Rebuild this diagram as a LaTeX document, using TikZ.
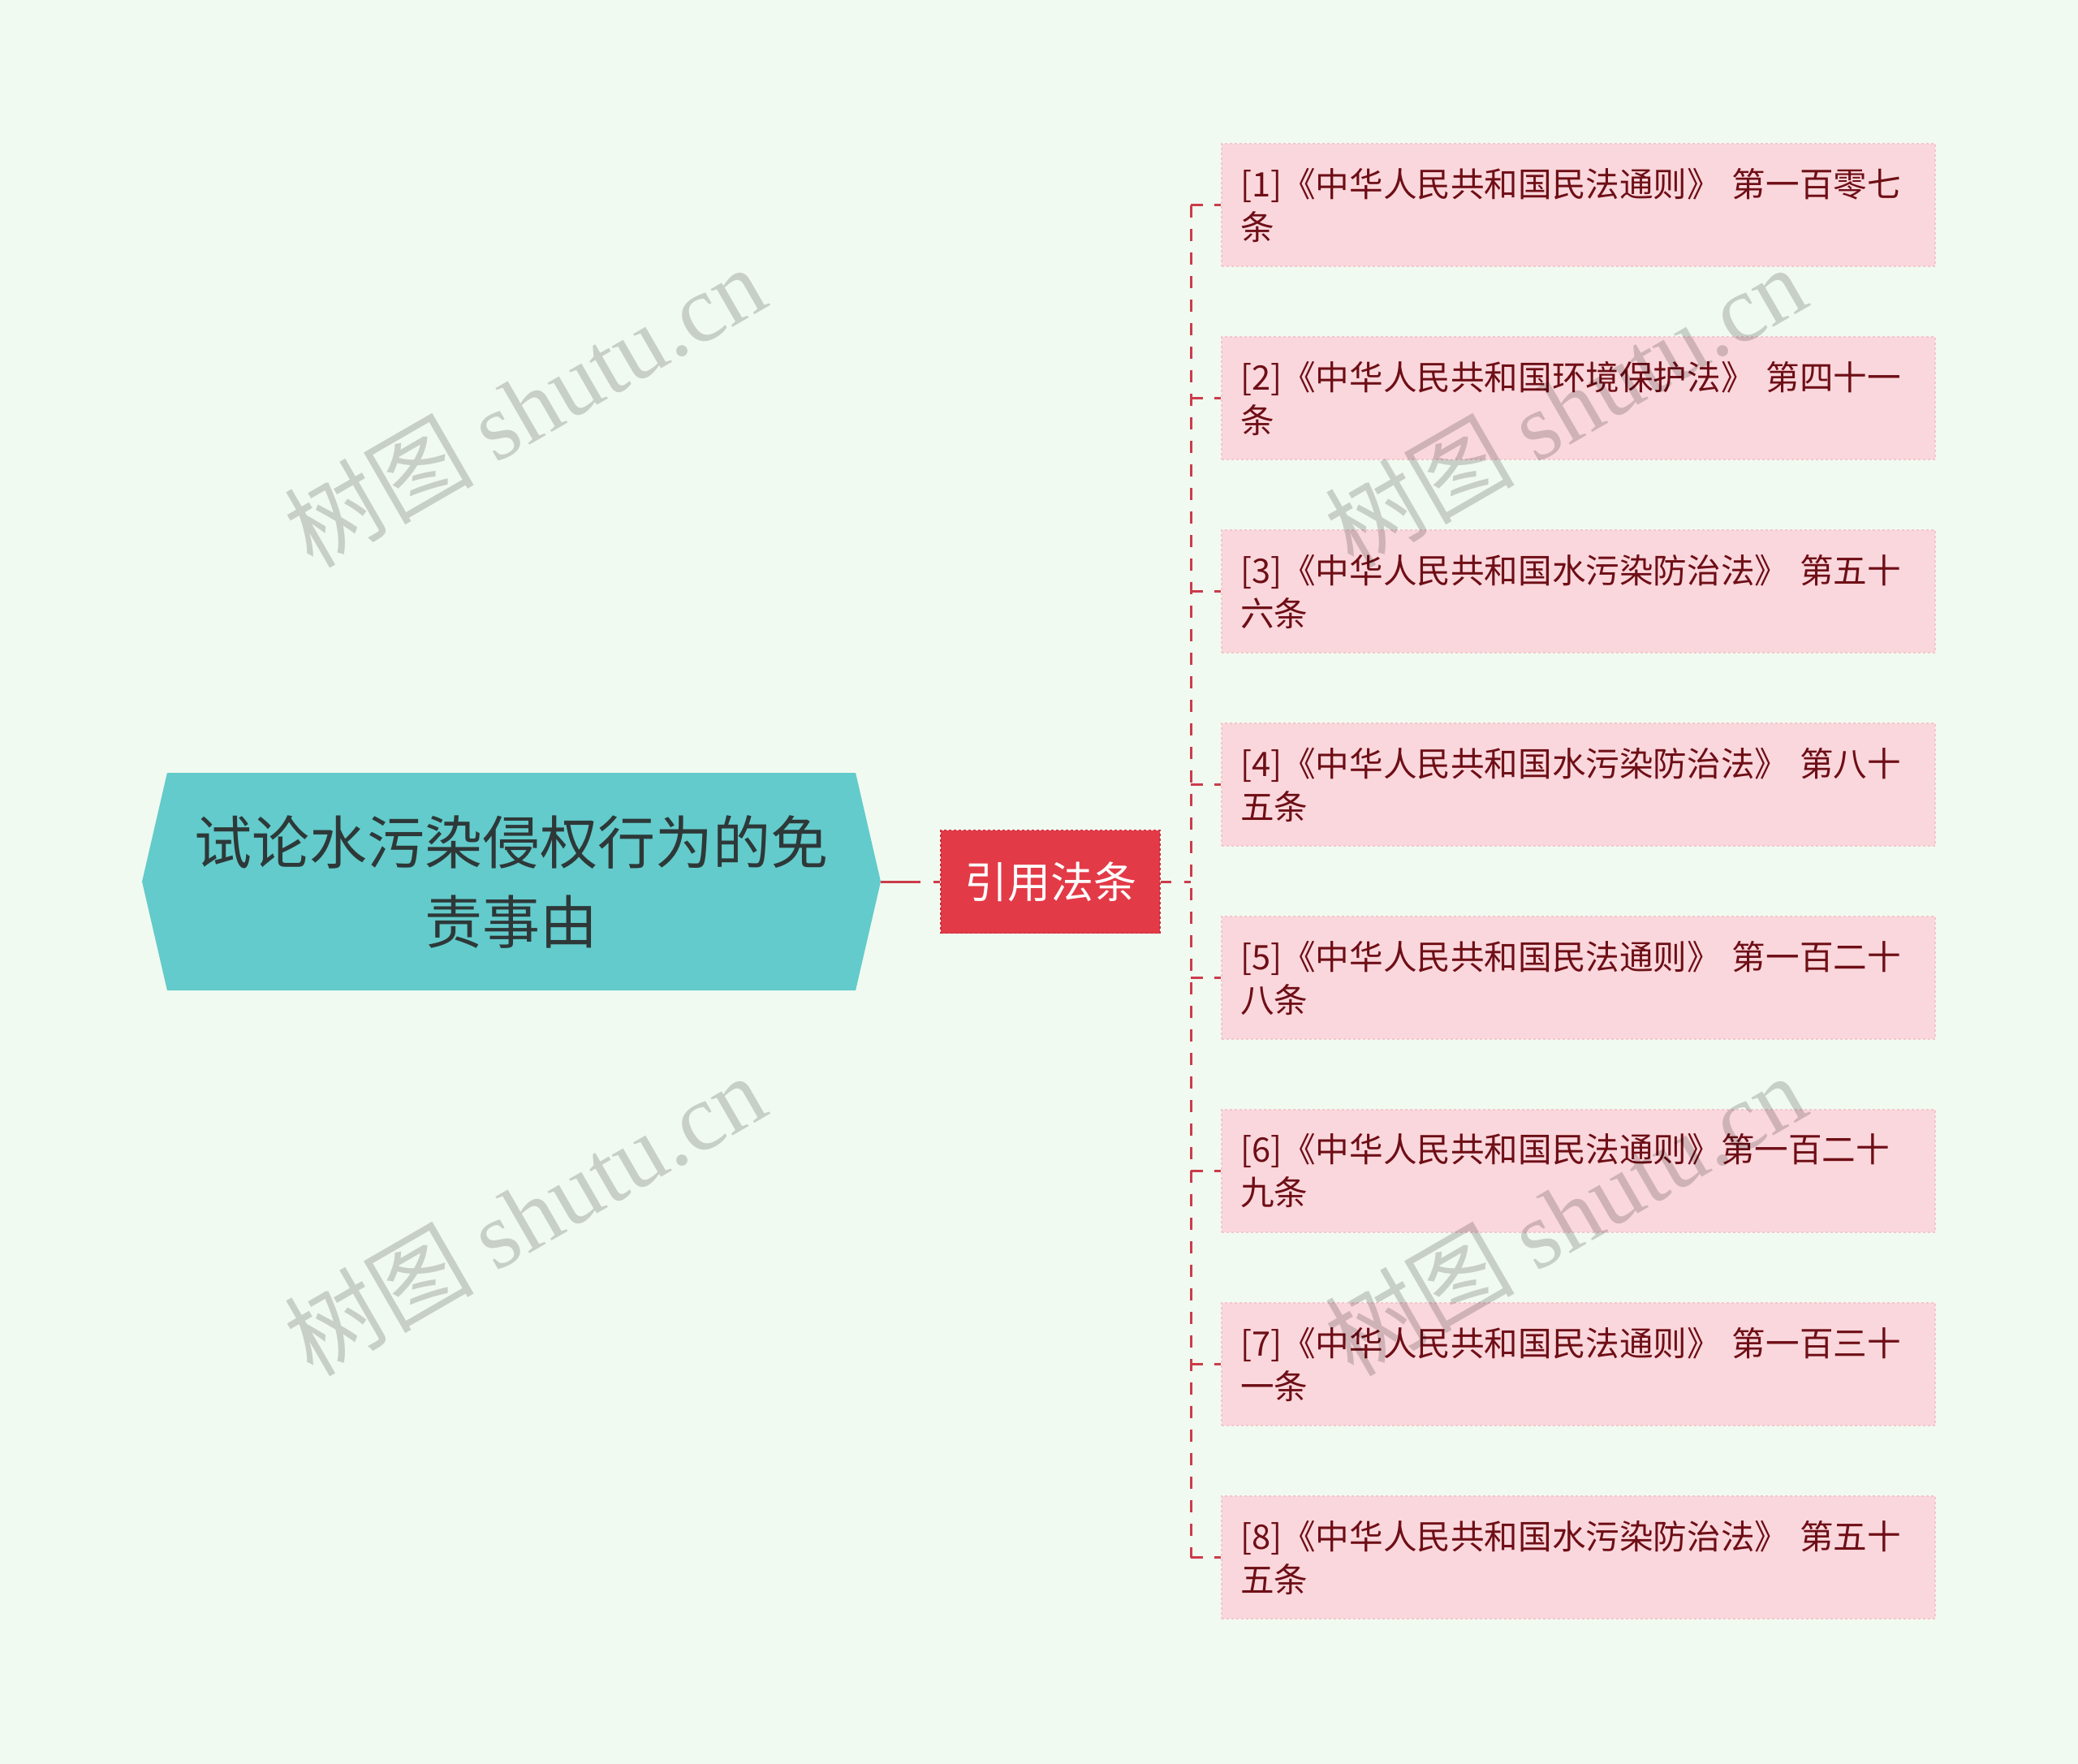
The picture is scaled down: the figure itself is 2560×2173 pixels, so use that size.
\documentclass[tikz,border=0pt]{standalone}
\usepackage{fontspec}
\setmainfont{Noto Sans CJK SC}
\newfontfamily\wmfont{Liberation Serif}
\usepackage{xcolor}
\usepackage{tikz}
\usetikzlibrary{shapes.symbols}

\definecolor{bgcol}{HTML}{F1FAF0}
\definecolor{rootcol}{HTML}{63CBCB}
\definecolor{roottext}{HTML}{2E3838}
\definecolor{refcol}{HTML}{E33A47}
\definecolor{refedge}{HTML}{C92E3A}
\definecolor{leafcol}{HTML}{FAD7DC}
\definecolor{leafedge}{HTML}{F4C6CC}
\definecolor{leaftext}{HTML}{6E0E16}
\definecolor{linkcol}{HTML}{CB3C4A}

\begin{document}
\begin{tikzpicture}[x=1pt,y=-1pt,
    rootbox/.style={shape=signal,signal to=east and west,signal pointer angle=154,
        fill=rootcol,text=roottext,minimum width=910,minimum height=268,inner sep=0pt,
        align=center,font=\fontsize{71}{98}\selectfont},
    refbox/.style={shape=rectangle,fill=refcol,draw=refedge,dashed,line width=1.5pt,
        text=white,minimum width=270,minimum height=127,inner sep=0pt,
        font=\fontsize{53}{60}\selectfont},
    citebox/.style={shape=rectangle,fill=leafcol,draw=leafedge,dashed,line width=1.5pt,
        text=leaftext,minimum width=879,minimum height=151,text width=833,inner xsep=23pt,
        align=left,font=\fontsize{41.6}{53}\selectfont},
    link/.style={draw=linkcol,line width=3pt,dash pattern=on 15pt off 14pt},
    wmark/.style={rotate=30,text=black,text opacity=0.17,font=\fontsize{117}{117}\selectfont}]

\fill[bgcol] (0,0) rectangle (2560,2173);
\useasboundingbox (0,0) rectangle (2560,2173);

    \node[rootbox] (root) at (630,1086) {试论水污染侵权行为的免\\责事由};

    \node[refbox] (ref) at (1294,1086) {引用法条};

    \node[citebox] (c1) at (1944.5,252.5)  {[1]《中华人民共和国民法通则》 第一百零七\\条};
    \node[citebox] (c2) at (1944.5,490.5)  {[2]《中华人民共和国环境保护法》 第四十一\\条};
    \node[citebox] (c3) at (1944.5,728.5)  {[3]《中华人民共和国水污染防治法》 第五十\\六条};
    \node[citebox] (c4) at (1944.5,966.5)  {[4]《中华人民共和国水污染防治法》 第八十\\五条};
    \node[citebox] (c5) at (1944.5,1204.5) {[5]《中华人民共和国民法通则》 第一百二十\\八条};
    \node[citebox] (c6) at (1944.5,1442.5) {[6]《中华人民共和国民法通则》第一百二十\\九条};
    \node[citebox] (c7) at (1944.5,1680.5) {[7]《中华人民共和国民法通则》 第一百三十\\一条};
    \node[citebox] (c8) at (1944.5,1918.5) {[8]《中华人民共和国水污染防治法》 第五十\\五条};

    \coordinate (trunk) at (1467,1086);

    \draw[link,dash pattern=on 49pt off 16pt on 9pt off 30pt] (root.east) -- (ref.west);
    \draw[link,dash pattern=on 13pt off 16pt on 9pt off 30pt] (ref.east) -- (trunk);
    \draw[link] (trunk |- c1.west) -- (trunk |- c8.west);

    \draw[link] (trunk |- c1.west) -- (c1.west);
    \draw[link] (trunk |- c2.west) -- (c2.west);
    \draw[link] (trunk |- c3.west) -- (c3.west);
    \draw[link] (trunk |- c4.west) -- (c4.west);
    \draw[link] (trunk |- c5.west) -- (c5.west);
    \draw[link] (trunk |- c6.west) -- (c6.west);
    \draw[link] (trunk |- c7.west) -- (c7.west);
    \draw[link] (trunk |- c8.west) -- (c8.west);

    \node[wmark] (w1) at (646,500)   {树图 {\wmfont shutu.cn}};
    \node[wmark] (w2) at (1928,500)  {树图 {\wmfont shutu.cn}};
    \node[wmark] (w3) at (646,1496)  {树图 {\wmfont shutu.cn}};
    \node[wmark] (w4) at (1928,1496) {树图 {\wmfont shutu.cn}};

\end{tikzpicture}
\end{document}
